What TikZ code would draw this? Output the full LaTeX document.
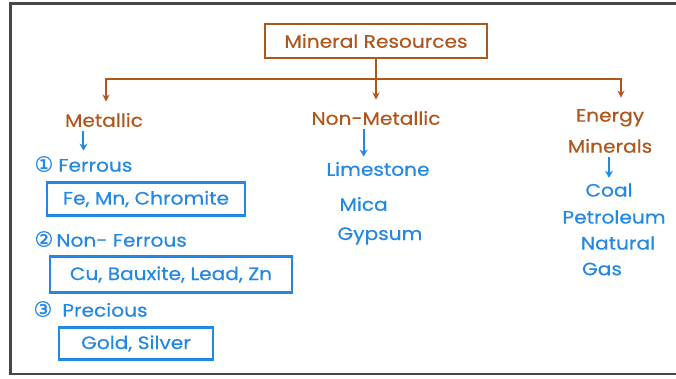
\documentclass[tikz,border=0pt]{standalone}
\usepackage{fontspec}
\setmainfont{Poppins}[FakeStretch=1.12, FakeBold=0.5]
\newfontfamily\numfont{DejaVu Sans}[FakeBold=1.2]
\usetikzlibrary{arrows.meta, positioning, calc}
\definecolor{rustbrown}{HTML}{AF561D}
\definecolor{penblue}{HTML}{2388E2}
\newcommand{\handfont}{\fontsize{18}{31}\selectfont}
\newcommand{\circnum}[1]{{\numfont\fontsize{21}{21}\selectfont #1}}
\tikzstyle{heading} = [text=rustbrown, font=\handfont, align=center]
\tikzstyle{topbox} = [rectangle, draw=rustbrown, line width=1.8pt, text=rustbrown, font=\handfont, minimum width=222pt, minimum height=34pt]
\tikzstyle{item} = [text=penblue, font=\handfont]
\tikzstyle{listbox} = [rectangle, draw=penblue, line width=2.2pt, text=penblue, font=\handfont, minimum height=33pt]
\tikzstyle{brarrow} = [draw=rustbrown, line width=1.8pt, -{Stealth[length=7pt, width=7pt]}, shorten >=8pt]
\tikzstyle{blarrow} = [draw=penblue, line width=2pt, -{Stealth[length=7pt, width=8pt]}, shorten <=1pt, shorten >=2pt]

\begin{document}
\begin{tikzpicture}[x=1pt, y=-1pt]
    \useasboundingbox (0,0) rectangle (676,379);
    \draw[line width=2.5pt, draw=black!72] (676,3.5) -- (10.5,3.5) -- (10.5,374) -- (676,374);

    % top of the tree
    \node (root) [topbox] at (376,41) {Mineral Resources};
    \coordinate (bar) at ($(root.south)+(0,20)$);

    \node (met) [heading] at (104,120) {Metallic};
    \node (nonmet) [heading] at (376,118) {Non-Metallic};
    \node (energy) [heading] at (610,131) {Energy\\Minerals};

    \draw [brarrow] (root.south) -- (nonmet.north);
    \draw [brarrow] (bar) -| ([xshift=2pt]met.north);
    \draw [brarrow] (bar) -| ([xshift=11pt]energy.north);

    % metallic column
    \node (ferrous) [item, anchor=west] at (31,164) {\circnum{①}\hspace{5pt}Ferrous};
    \node (ferbox) [listbox, minimum width=198pt] at (146,199) {Fe, Mn, Chromite};
    \node (nonfer) [item, anchor=west] at (31,239) {\circnum{②}\hspace{3pt}Non- Ferrous};
    \node (nonferbox) [listbox, minimum width=242pt, minimum height=36pt] at (171,274.5) {Cu, Bauxite, Lead, Zn};
    \node (precious) [item, anchor=west] at (30,309) {\circnum{③}\hspace{10pt}Precious};
    \node (preciousbox) [listbox, minimum width=154pt, minimum height=32pt] at (136,343.5) {Gold, Silver};
    \draw [blarrow] (met.south -| ferrous.north) -- (ferrous.north);

    % non-metallic column
    \node (lime) [item] at (378,169) {Limestone};
    \node (mica) [item, anchor=west] at (336,204) {Mica};
    \node (gypsum) [item, anchor=west] at (334,236) {Gypsum};
    \draw [blarrow] (nonmet.south -| mica.north) -- (lime.north -| mica.north);

    % energy column
    \node (coal) [item] at (609,190) {Coal};
    \node (petrol) [item] at (614,217) {Petroleum};
    \node (natural) [item] at (618,243) {Natural};
    \node (gas) [item] at (602,269) {Gas};
    \draw [blarrow] (energy.south -| coal.north) -- (coal.north);
\end{tikzpicture}
\end{document}
